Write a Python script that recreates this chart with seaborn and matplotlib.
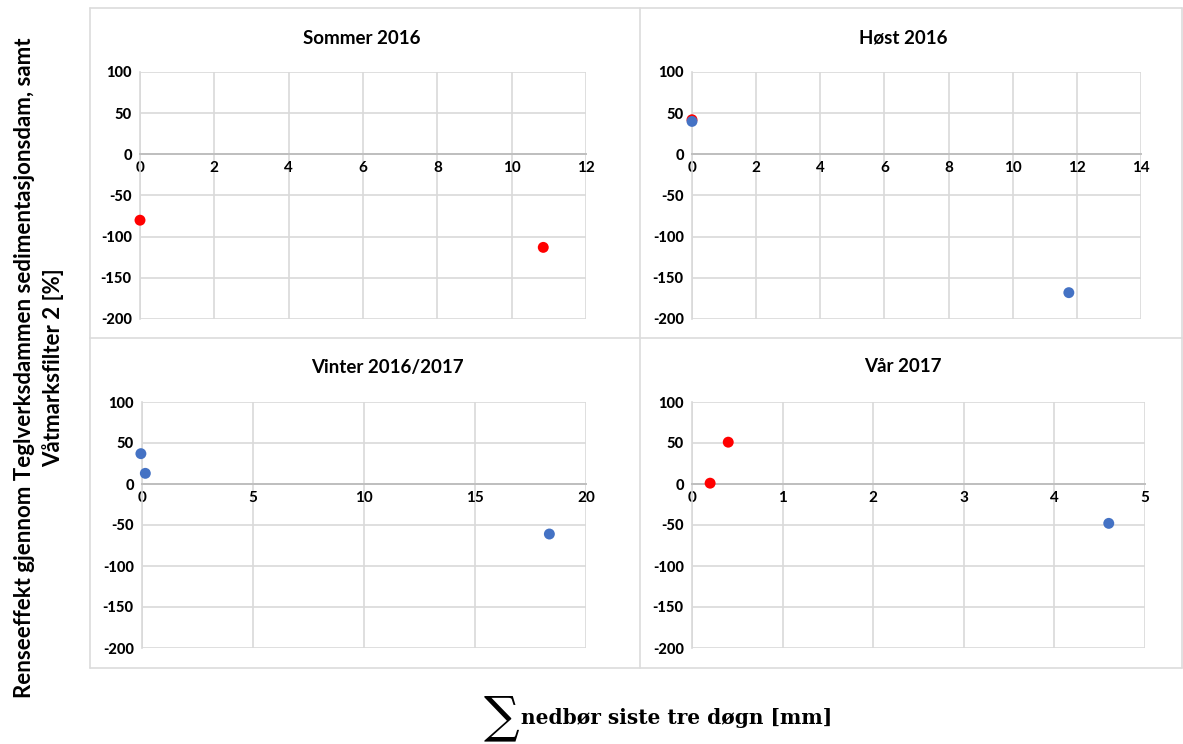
import matplotlib
matplotlib.use("Agg")
import matplotlib.pyplot as plt
from matplotlib.lines import Line2D
import numpy as np
import pandas as pd
import seaborn as sns

# --- data -------------------------------------------------------------
seasons = ["Sommer 2016", "Høst 2016", "Vinter 2016/2017", "Vår 2017"]

sommer_series = ["Sedimentasjonsdam", "Sedimentasjonsdam"]
sommer_x = [0.0, 10.85]
sommer_y = [-80, -113]

host_series = ["Sedimentasjonsdam", "Våtmarksfilter 2", "Våtmarksfilter 2"]
host_x = [0.0, 0.0, 11.75]
host_y = [42, 40, -168]

vinter_series = ["Våtmarksfilter 2", "Våtmarksfilter 2", "Våtmarksfilter 2"]
vinter_x = [-0.05, 0.15, 18.35]
vinter_y = [37, 13, -61]

var_series = ["Sedimentasjonsdam", "Sedimentasjonsdam", "Våtmarksfilter 2"]
var_x = [0.2, 0.4, 4.6]
var_y = [1, 51, -48]

x_max = [12, 14, 20, 5]
x_step = [2, 2, 5, 1]
y_ticks = [100, 50, 0, -50, -100, -150, -200]

y_label = "Renseeffekt gjennom Teglverksdammen sedimentasjonsdam, samt\nVåtmarksfilter 2 [%]"
x_label = "nedbør siste tre døgn [mm]"

palette = {"Sedimentasjonsdam": "#FF0000", "Våtmarksfilter 2": "#4472C4"}

frames = []
for name, s, xs, ys in [
    (seasons[0], sommer_series, sommer_x, sommer_y),
    (seasons[1], host_series, host_x, host_y),
    (seasons[2], vinter_series, vinter_x, vinter_y),
    (seasons[3], var_series, var_x, var_y),
]:
    frames.append(pd.DataFrame({"sesong": name, "serie": s, "x": xs, "y": ys}))
df = pd.concat(frames, ignore_index=True)

# --- layout -----------------------------------------------------------
sns.set_theme(style="white")
plt.rcParams["font.family"] = ["Lato", "DejaVu Sans"]
plt.rcParams["font.weight"] = "bold"

W, H = 1183, 744
fig = plt.figure(figsize=(W / 100, H / 100), dpi=100)
fig.patch.set_facecolor("white")


def frac_rect(x0, y0, x1, y1):
    return [x0 / W, 1 - y1 / H, (x1 - x0) / W, (y1 - y0) / H]


grid_col = "#D9D9D9"
box_col = "#DCDCDC"

# chart boxes
for xs_, ys_ in [
    ([90, 1182], [8, 8]), ([90, 1182], [338, 338]), ([90, 1182], [668, 668]),
    ([90, 90], [8, 668]), ([640, 640], [8, 668]), ([1182, 1182], [8, 668]),
]:
    fig.add_artist(Line2D([x / W for x in xs_], [1 - y / H for y in ys_],
                          color=box_col, lw=1.2))

plot_areas = [
    (140, 72, 586, 319),
    (692, 72, 1141, 319),
    (142, 402, 586, 648),
    (692, 402, 1145, 648),
]
title_pos = [(362, 38), (903, 38), (387, 368), (903, 367)]

for i, season in enumerate(seasons):
    ax = fig.add_axes(frac_rect(*plot_areas[i]))
    sub = df[df["sesong"] == season]
    sns.scatterplot(data=sub, x="x", y="y", hue="serie", palette=palette,
                    s=62, edgecolor="none", legend=False, ax=ax, clip_on=False,
                    zorder=5)
    ax.set_xlim(0, x_max[i])
    ax.set_ylim(-200, 100)
    xt = np.arange(0, x_max[i] + 0.001, x_step[i])
    ax.set_xticks(xt)
    ax.set_xticklabels([f"{v:g}" for v in xt], fontweight=900, fontsize=10.5)
    ax.set_yticks(y_ticks)
    ax.set_yticklabels([f"{v}" for v in y_ticks], fontweight=900, fontsize=10.5)
    ax.set_xlabel("")
    ax.set_ylabel("")
    ax.grid(True, color=grid_col, lw=1.2)
    ax.set_axisbelow(True)
    for sp in ["top", "right"]:
        ax.spines[sp].set_visible(False)
    ax.spines["left"].set_color(grid_col)
    ax.spines["left"].set_linewidth(1.2)
    ax.spines["bottom"].set_position(("data", 0))
    ax.spines["bottom"].set_color("#BFBFBF")
    ax.spines["bottom"].set_linewidth(1.4)
    ax.tick_params(axis="both", length=0, labelcolor="black", pad=6)
    ax.tick_params(axis="x", pad=5)
    tx, ty = title_pos[i]
    fig.text(tx / W, 1 - ty / H, season, ha="center", va="center",
             fontsize=13.5, fontweight="bold", color="black")

fig.text(39 / W, 1 - 368 / H, y_label, rotation=90, ha="center", va="center",
         fontsize=16, fontweight="bold", color="black", linespacing=1.35,
         multialignment="center")

fig.text(501 / W, 1 - 718 / H, "\u2211", ha="center", va="center",
         fontsize=36, fontweight="normal", color="black",
         family=["DejaVu Serif", "DejaVu Sans"])
fig.text(521 / W, 1 - 718 / H, x_label, ha="left", va="center",
         fontsize=14.5, fontweight="bold", color="black",
         family=["DejaVu Serif", "DejaVu Sans"])

fig.savefig("out.png", dpi=100, facecolor="white")
